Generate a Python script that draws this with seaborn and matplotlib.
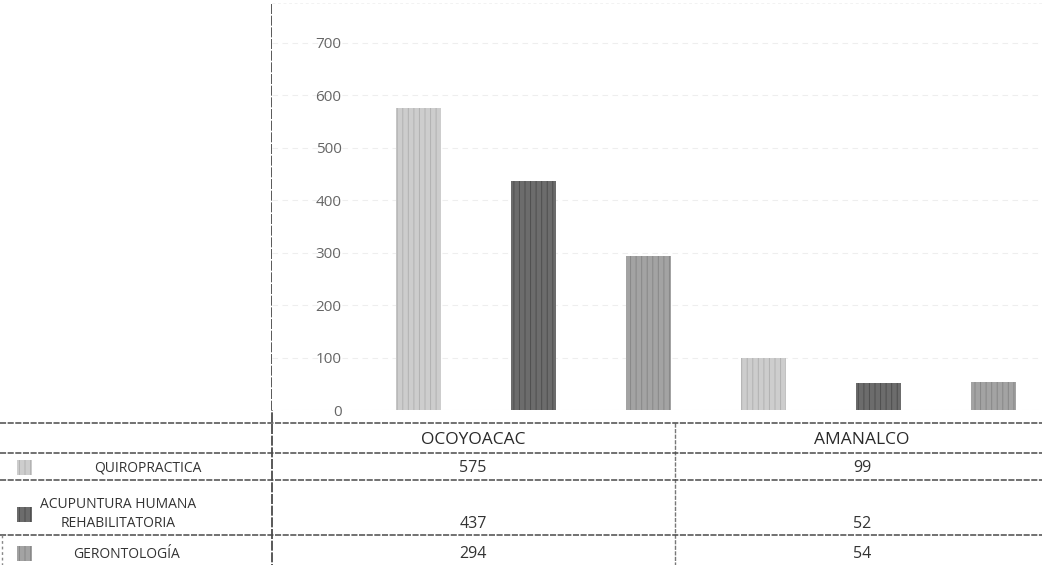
import matplotlib
matplotlib.use('Agg')
import matplotlib.pyplot as plt
from matplotlib.patches import Rectangle
import pandas as pd
import seaborn as sns

# datos
municipios = ['OCOYOACAC', 'AMANALCO']
servicios = ['QUIROPRACTICA', 'ACUPUNTURA HUMANA\nREHABILITATORIA', 'GERONTOLOGÍA']
quiropractica = [575, 99]
acupuntura = [437, 52]
gerontologia = [294, 54]
y_ticks = [0, 100, 200, 300, 400, 500, 600, 700]

colores = ['#cdcdcd', '#6c6c6c', '#a3a3a3']
tramas = ['#b2b2b2', '#4e4e4e', '#888888']

valores = [quiropractica, acupuntura, gerontologia]
df = pd.DataFrame({
    'municipio': [m for _ in servicios for m in municipios],
    'servicio': [s for s in servicios for _ in municipios],
    'total': [v for serie in valores for v in serie],
})

sns.set_theme(style='white')
plt.rcParams['font.family'] = ['Open Sans', 'DejaVu Sans']
plt.rcParams['hatch.linewidth'] = 0.7

W, H = 1042, 565
fig = plt.figure(figsize=(W / 100, H / 100), dpi=100)

# area de la grafica: 0 en y=410 px, borde superior en y=4 px
ax = fig.add_axes([272 / W, (H - 410) / H, (W - 272) / W, 406 / H])
sns.barplot(data=df, x='municipio', y='total', hue='servicio', order=municipios,
            hue_order=servicios, palette=colores, width=1.0, gap=0.61,
            legend=False, ax=ax, linewidth=0)

for i, cont in enumerate(ax.containers):
    for bar in cont:
        bar.set_hatch('|||')
        bar.set_edgecolor(tramas[i])
        bar.set_linewidth(0)

ax.set_xlim(-0.758, 1.474)
ax.set_ylim(0, 774)
ax.set_yticks(y_ticks)
ax.set_yticklabels([str(t) for t in y_ticks], fontsize=11, color='#666666')
ax.tick_params(axis='y', length=0, pad=-50)
ax.set_xticks([])
ax.set_xlabel('')
ax.set_ylabel('')
ax.yaxis.grid(True, color='#eeeeee', linestyle=(0, (5, 4)), linewidth=0.8)
ax.set_axisbelow(True)
for s in ax.spines.values():
    s.set_visible(False)

# tabla de datos y marcos
tb = fig.add_axes([0, 0, 1, 1], zorder=-1)
tb.set_xlim(0, W)
tb.set_ylim(H, 0)
tb.axis('off')
tb.patch.set_alpha(0)

linea = dict(color='#4a4a4a', linewidth=1.1, linestyle=(0, (4, 1)))
tb.plot([272, W], [4, 4], color='#bdbdbd', linewidth=1, linestyle=(0, (2, 2)))
tb.plot([272, 272], [4, H], color='#3c3c3c', linewidth=1.2, linestyle=(0, (6, 1)))
tb.plot([675, 675], [423, H], color='#777777', linewidth=1, linestyle=(0, (3, 1)))
for yy in [423, 453, 480, 535]:
    tb.plot([0, W], [yy, yy], **linea)
tb.plot([2, 2], [535, H], color='#888888', linewidth=1, linestyle=(0, (2, 2)))

col_x = [473, 862]
fila_y = [468, 524, 554]
etiqueta_x = [148, 118, 126]
etiqueta_y = [468, 514, 554]
for j, m in enumerate(municipios):
    tb.text(col_x[j], 440, m, ha='center', va='center', fontsize=12.5, color='#2a2a2a')
for i, s in enumerate(servicios):
    tb.text(etiqueta_x[i], etiqueta_y[i], s, ha='center', va='center', fontsize=10,
            color='#333333', linespacing=1.45)
    tb.add_patch(Rectangle((17, fila_y[i] - 8 if i != 1 else 507), 15, 15,
                           facecolor=colores[i], edgecolor=tramas[i],
                           hatch='|||', linewidth=0))
    for j in range(len(municipios)):
        tb.text(col_x[j], fila_y[i], str(valores[i][j]), ha='center', va='center',
                fontsize=11.5, color='#333333')

fig.savefig('out.png', dpi=100, facecolor='white')
